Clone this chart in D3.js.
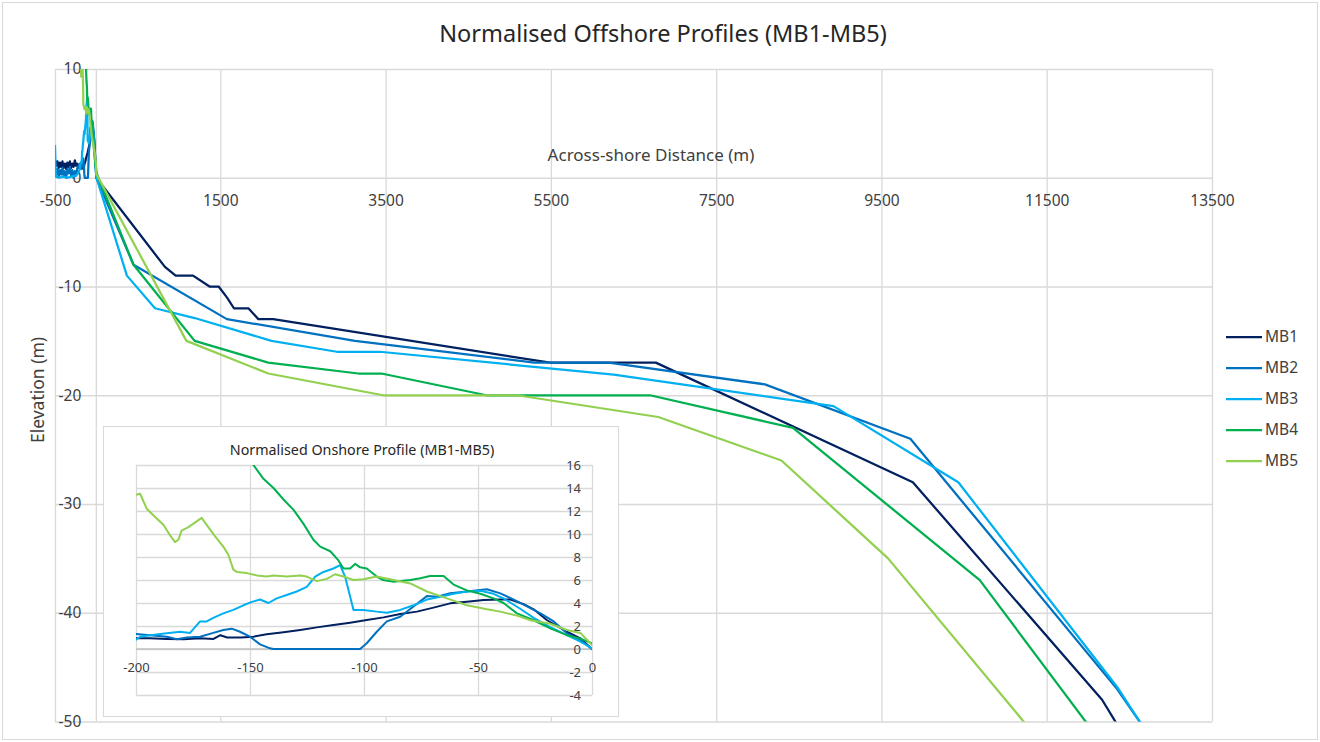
<!DOCTYPE html>
<html>
<head>
<meta charset="utf-8">
<script src="https://cdn.jsdelivr.net/npm/d3@7"></script>
<style>
  body { margin: 0; background: #fff; }
  text { font-family: "Noto Sans", "Open Sans", sans-serif; }
</style>
</head>
<body>
<div id="chart"></div>
<script>
// Profiles as [distance (m), elevation (m)] pairs, onshore part first then offshore
const mb1 = [
  [-495,1.6],[-485,1.1],[-470,1.5],[-455,0.9],[-440,1.4],[-425,1.0],[-410,1.5],[-395,0.9],[-380,1.3],[-365,0.8],
  [-350,1.4],[-335,1.0],[-320,1.5],[-305,0.9],[-290,1.3],[-275,1.0],[-260,1.6],[-245,1.1],[-230,1.3],[-215,0.9],
  [-200,0.93],[-194,0.93],[-186.5,0.87],[-179,0.84],[-172,0.93],[-166,0.87],[-163,1.2],[-160,1.0],[-154,0.99],
  [-148.5,1.07],[-142.7,1.28],[-135.3,1.45],[-128,1.65],[-120.7,1.88],[-113.4,2.09],[-106.1,2.29],[-98.8,2.52],
  [-91.4,2.75],[-84.1,3.04],[-76.8,3.25],[-69.5,3.6],[-62.2,3.97],[-54.9,4.1],[-47.5,4.26],[-40.2,4.3],[-35.8,4.3],
  [-30,3.9],[-25.6,3.45],[-19.7,2.5],[-11,1.5],[-5.1,0.93],[0,0],
  [830,-8.2],[960,-9],[1170,-9],[1370,-10],[1480,-10],[1580,-11],[1665,-12],[1840,-12],[1960,-13],[2140,-13],
  [5490,-17],[6770,-17],[9880,-28],[12170,-48],[12450,-51.5]
];
const mb2 = [
  [-495,0.9],[-482,0.3],[-468,0.8],[-455,0.1],[-440,0.7],[-425,0.3],[-410,0.9],[-395,0.2],[-380,0.6],[-365,0.0],
  [-350,0.8],[-335,0.4],[-320,1.0],[-305,0.2],[-290,0.7],[-275,0.0],[-260,0.6],[-245,0.2],[-230,0.9],[-215,1.1],
  [-200,1.3],[-193.9,1.2],[-186.5,1.07],[-182.1,0.84],[-177.7,1.0],[-171.9,1.07],[-166.1,1.4],[-161.7,1.65],
  [-158,1.77],[-154.4,1.5],[-150,1.07],[-145.6,0.4],[-141.2,0.06],[-139.7,0],[-101.7,0],[-98.8,0.5],[-94.4,1.5],
  [-90,2.4],[-84.1,2.8],[-78.3,3.7],[-72.4,4.6],[-68,4.55],[-62.2,4.84],[-54.9,5.0],[-46.1,5.2],[-40.2,4.84],
  [-34.3,4.3],[-28.5,3.7],[-22.6,3.1],[-16.8,2.4],[-11,1.36],[-5.1,0.78],[0,0],
  [450,-8],[1580,-13],[3130,-15],[5300,-17],[6200,-17],[8090,-19],[9850,-24],[12350,-47],[12650,-50.3]
];
const mb3 = [
  [-500,3.0],[-490,0.1],[-450,0.0],[-400,0.1],[-350,0.0],[-300,0.1],[-250,0.2],[-220,0.4],
  [-200,0.8],[-198.2,1.07],[-193.9,1.2],[-186.5,1.36],[-180.7,1.5],[-176.3,1.4],[-174.1,1.9],[-171.9,2.4],
  [-169,2.4],[-166.1,2.7],[-161.7,3.1],[-157.3,3.4],[-152.9,3.8],[-149.2,4.1],[-145.6,4.3],[-141.9,4.0],
  [-138.3,4.4],[-133.9,4.7],[-129.5,5.0],[-125.1,5.4],[-121.4,6.3],[-117.8,6.7],[-113.4,7.0],[-110.5,7.3],
  [-108.3,6.3],[-104.6,3.4],[-100.2,3.4],[-94.4,3.25],[-90,3.16],[-84.1,3.4],[-78.3,3.8],[-72.4,4.3],
  [-66.6,4.55],[-60.7,4.8],[-54.9,5.0],[-49,5.07],[-43.2,4.8],[-38.8,4.4],[-31.5,3.5],[-25.6,2.7],
  [-18.3,1.9],[-11,1.2],[-5.1,0.64],[0,0.05],
  [370,-9],[710,-12],[1190,-12.9],[2120,-15],[2910,-16],[3430,-16],[6260,-18.1],[8920,-21],[10430,-28],
  [12350,-46.8],[12650,-50.3]
];
const mb4 = [
  [-175,24],[-160,19],[-148.5,16.0],[-144.1,14.8],[-139.7,14.0],[-135.3,13.0],[-130.9,12.1],[-126.6,10.9],
  [-122.2,9.5],[-119.2,8.9],[-114.8,8.5],[-111.2,7.7],[-109,7.0],[-106.1,7.0],[-103.9,7.4],[-101.7,7.1],
  [-98.8,7.0],[-94.4,6.3],[-91.6,6.0],[-87,5.85],[-79.7,6.0],[-75.3,6.15],[-71,6.35],[-65.1,6.35],[-60.7,5.6],
  [-54.9,5.1],[-49,4.8],[-43.2,4.4],[-38.8,4.0],[-32.9,3.1],[-25.6,2.5],[-18.3,1.8],[-11,1.2],[-5.1,0.9],[0,0.5],
  [450,-8],[1190,-15],[2080,-17],[3170,-18],[3450,-18],[4720,-20],[6700,-20],[8430,-23],[10690,-37],[11990,-50.2]
];
const mb5 = [
  [-200,13.4],[-198.2,13.5],[-195.3,12.2],[-191.7,11.5],[-188,10.8],[-185.1,9.9],[-182.9,9.3],[-181.4,9.5],
  [-180,10.3],[-177,10.6],[-173.4,11.1],[-171.2,11.4],[-169,10.8],[-165.3,9.8],[-161.7,8.9],[-159.5,8.2],
  [-157.3,6.9],[-155.8,6.7],[-151.4,6.6],[-147,6.4],[-142.7,6.3],[-139.7,6.4],[-133.9,6.3],[-128,6.4],
  [-125.1,6.3],[-120.7,5.9],[-116.3,6.1],[-112.7,6.5],[-109,6.3],[-104.6,6.0],[-100.2,6.06],[-94.4,6.3],
  [-87,6.0],[-79.7,5.7],[-72.4,5.0],[-63.6,4.4],[-54.9,3.8],[-46.1,3.45],[-40.2,3.25],[-32.9,2.9],[-27,2.5],
  [-18.3,2.2],[-11,1.65],[-5.1,1.4],[-2.2,0.8],[0,0.35],
  [1090,-15],[2080,-18],[3470,-20],[5090,-20],[6800,-22],[8290,-26],[9580,-35],[11220,-50],[11400,-51.6]
];

const seriesNames = ["MB1", "MB2", "MB3", "MB4", "MB5"];
const seriesData = [mb1, mb2, mb3, mb4, mb5];
const seriesColors = ["#002060", "#0070C0", "#00B0F0", "#00B050", "#92D050"];

const xTicks = [-500, 1500, 3500, 5500, 7500, 9500, 11500, 13500];
const yTicks = [10, 0, -10, -20, -30, -40, -50];
const insetXTicks = [-200, -150, -100, -50, 0];
const insetYTicks = [16, 14, 12, 10, 8, 6, 4, 2, 0, -2, -4];

const width = 1320, height = 742;
const gridColor = "#d9d9d9";
const labelColor = "#404040";
const plain = d => String(d); // hyphen minus like the original, not d3's U+2212

const svg = d3.select("#chart")
  .append("svg")
  .attr("width", width)
  .attr("height", height);

svg.append("rect")
  .attr("x", 2.5).attr("y", 2.5)
  .attr("width", width - 5).attr("height", height - 5)
  .attr("fill", "#fff")
  .attr("stroke", gridColor);

// main scales
const x = d3.scaleLinear().domain([-500, 13500]).range([55, 1212]);
const y = d3.scaleLinear().domain([-50, 10]).range([721.5, 69]);

svg.append("defs").append("clipPath").attr("id", "mainClip")
  .append("rect")
  .attr("x", x(-500)).attr("y", y(10))
  .attr("width", x(13500) - x(-500)).attr("height", y(-50) - y(10));

// gridlines
svg.append("g")
  .attr("transform", `translate(0,${y(-50)})`)
  .call(d3.axisBottom(x).tickValues(xTicks).tickSize(-(y(-50) - y(10))).tickFormat(""))
  .call(g => g.select(".domain").remove())
  .call(g => g.selectAll("line").attr("stroke", gridColor).attr("stroke-width", 1.3));

svg.append("g")
  .attr("transform", `translate(${x(-500)},0)`)
  .call(d3.axisLeft(y).tickValues(yTicks).tickSize(-(x(13500) - x(-500))).tickFormat(""))
  .call(g => g.select(".domain").remove())
  .call(g => g.selectAll("line").attr("stroke", gridColor).attr("stroke-width", 1.3));

// vertical axis line through x = 0
svg.append("line")
  .attr("x1", x(0)).attr("x2", x(0))
  .attr("y1", y(10)).attr("y2", y(-50))
  .attr("stroke", gridColor).attr("stroke-width", 1.3);

// x labels sit under the zero line
svg.append("g")
  .attr("transform", `translate(0,${y(0)})`)
  .call(d3.axisBottom(x).tickValues(xTicks).tickSize(0).tickPadding(17).tickFormat(plain))
  .call(g => g.select(".domain").remove())
  .call(g => g.selectAll("text")
    .attr("fill", labelColor)
    .style("font-size", "15.5px")
    .style("font-family", "'Noto Sans', sans-serif"));

svg.append("g")
  .attr("transform", `translate(${x(0)},0)`)
  .call(d3.axisLeft(y).tickValues(yTicks).tickSize(0).tickPadding(15).tickFormat(plain))
  .call(g => g.select(".domain").remove())
  .call(g => g.selectAll("text")
    .attr("fill", labelColor)
    .style("font-size", "15.5px")
    .style("font-family", "'Noto Sans', sans-serif"));

// profile lines
const line = d3.line().x(d => x(d[0])).y(d => y(d[1]));

svg.append("g")
  .attr("clip-path", "url(#mainClip)")
  .selectAll("path")
  .data(seriesData)
  .enter()
  .append("path")
  .attr("d", line)
  .attr("fill", "none")
  .attr("stroke", (d, i) => seriesColors[i])
  .attr("stroke-width", 2.25)
  .attr("stroke-linejoin", "round");

// titles
svg.append("text")
  .attr("x", 663).attr("y", 42)
  .attr("text-anchor", "middle")
  .attr("fill", "#262626")
  .style("font-size", "23.5px")
  .text("Normalised Offshore Profiles (MB1-MB5)");

svg.append("text")
  .attr("x", 651).attr("y", 161)
  .attr("text-anchor", "middle")
  .attr("fill", labelColor)
  .style("font-size", "17px")
  .text("Across-shore Distance (m)");

svg.append("text")
  .attr("transform", "translate(44,390) rotate(-90)")
  .attr("text-anchor", "middle")
  .attr("fill", labelColor)
  .style("font-size", "17.5px")
  .text("Elevation (m)");

// legend
const legend = svg.append("g")
  .selectAll("g")
  .data(seriesNames)
  .enter()
  .append("g")
  .attr("transform", (d, i) => `translate(1226,${337 + i * 31})`);

legend.append("line")
  .attr("x1", 0).attr("x2", 36)
  .attr("stroke", (d, i) => seriesColors[i])
  .attr("stroke-width", 2.25);

legend.append("text")
  .attr("x", 39).attr("dy", "0.35em")
  .attr("fill", labelColor)
  .style("font-size", "15.5px")
  .text(d => d);

// inset chart
const inset = svg.append("g");

inset.append("rect")
  .attr("x", 103.5).attr("y", 426.5)
  .attr("width", 515).attr("height", 290)
  .attr("fill", "#fff")
  .attr("stroke", gridColor);

const ix = d3.scaleLinear().domain([-200, 0]).range([136, 592]);
const iy = d3.scaleLinear().domain([-4, 16]).range([695, 465]);

svg.select("defs").append("clipPath").attr("id", "insetClip")
  .append("rect")
  .attr("x", ix(-200)).attr("y", iy(16))
  .attr("width", ix(0) - ix(-200)).attr("height", iy(-4) - iy(16));

inset.append("g")
  .attr("transform", `translate(0,${iy(-4)})`)
  .call(d3.axisBottom(ix).tickValues(insetXTicks).tickSize(-(iy(-4) - iy(16))).tickFormat(""))
  .call(g => g.select(".domain").remove())
  .call(g => g.selectAll("line").attr("stroke", gridColor).attr("stroke-width", 1.3));

inset.append("g")
  .attr("transform", `translate(${ix(-200)},0)`)
  .call(d3.axisLeft(iy).tickValues(insetYTicks).tickSize(-(ix(0) - ix(-200))).tickFormat(""))
  .call(g => g.select(".domain").remove())
  .call(g => g.selectAll("line").attr("stroke", gridColor).attr("stroke-width", 1.3));

inset.append("line")
  .attr("x1", ix(-200)).attr("x2", ix(0))
  .attr("y1", iy(0)).attr("y2", iy(0))
  .attr("stroke", "#bfbfbf").attr("stroke-width", 1.3);

inset.append("g")
  .attr("transform", `translate(0,${iy(0)})`)
  .call(d3.axisBottom(ix).tickValues(insetXTicks).tickSize(0).tickPadding(14).tickFormat(plain))
  .call(g => g.select(".domain").remove())
  .call(g => g.selectAll("text")
    .attr("fill", labelColor)
    .style("font-size", "13px")
    .style("font-family", "'Noto Sans', sans-serif"));

inset.append("g")
  .attr("transform", `translate(${ix(0)},0)`)
  .call(d3.axisLeft(iy).tickValues(insetYTicks).tickSize(0).tickPadding(11).tickFormat(plain))
  .call(g => g.select(".domain").remove())
  .call(g => g.selectAll("text")
    .attr("fill", labelColor)
    .style("font-size", "13px")
    .style("font-family", "'Noto Sans', sans-serif"));

const insetLine = d3.line().x(d => ix(d[0])).y(d => iy(d[1]));

inset.append("g")
  .attr("clip-path", "url(#insetClip)")
  .selectAll("path")
  .data(seriesData)
  .enter()
  .append("path")
  .attr("d", insetLine)
  .attr("fill", "none")
  .attr("stroke", (d, i) => seriesColors[i])
  .attr("stroke-width", 2)
  .attr("stroke-linejoin", "round");

inset.append("text")
  .attr("x", 362).attr("y", 455)
  .attr("text-anchor", "middle")
  .attr("fill", "#262626")
  .style("font-size", "14.3px")
  .text("Normalised Onshore Profile (MB1-MB5)");
</script>
</body>
</html>
